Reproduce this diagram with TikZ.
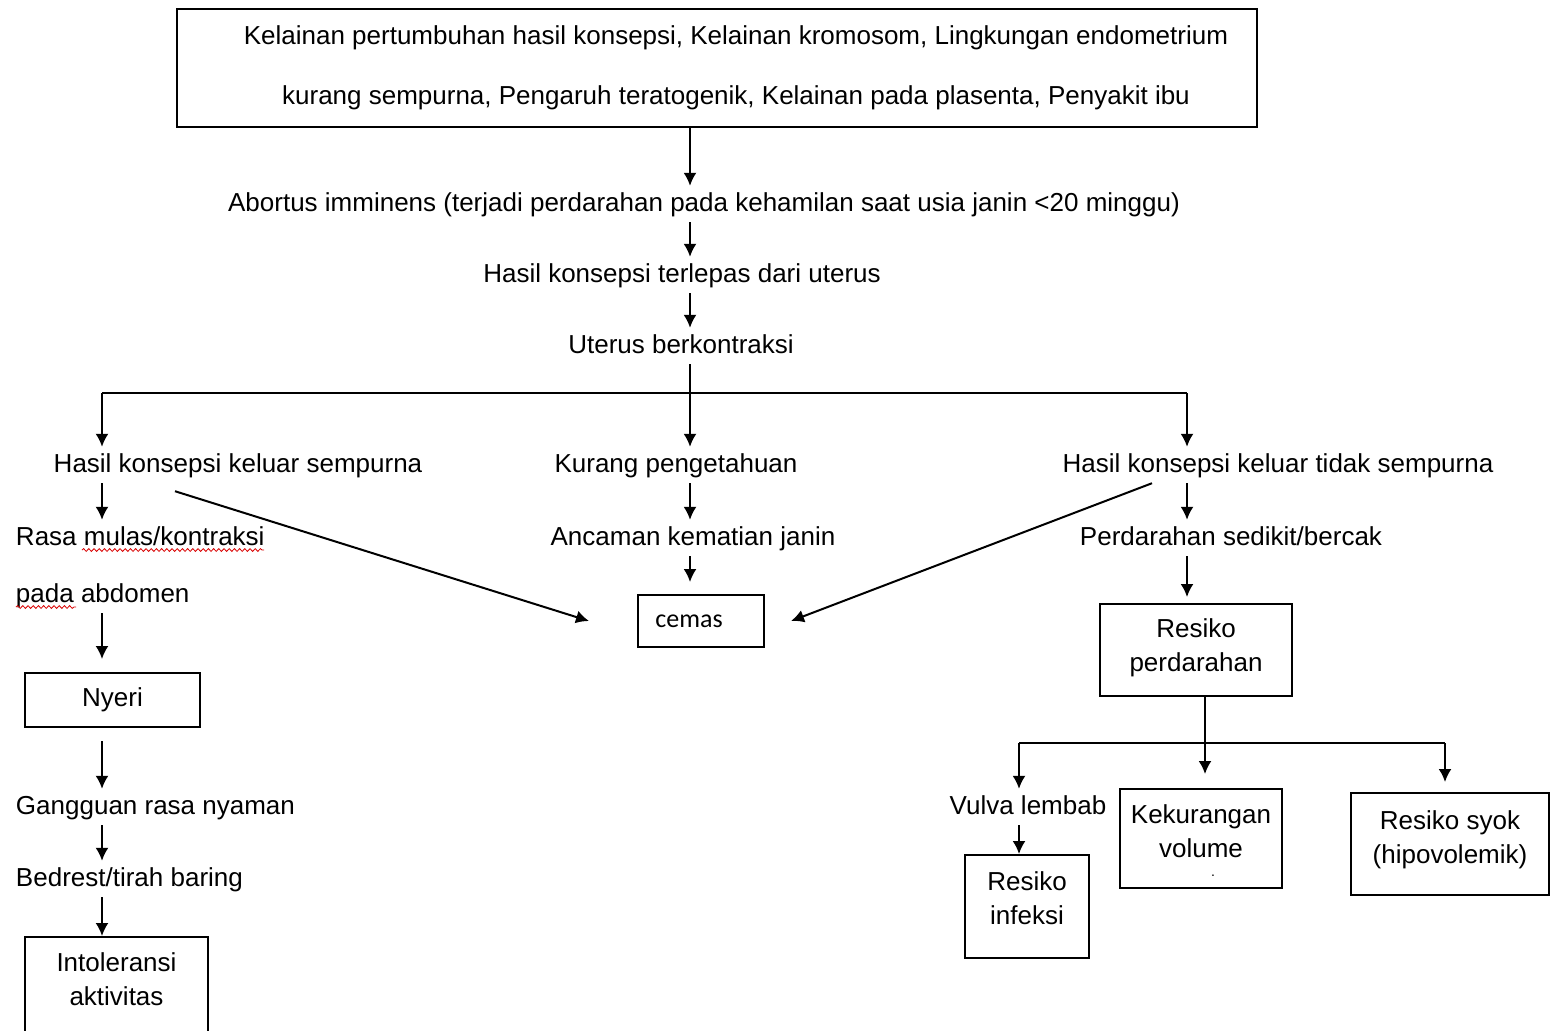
\documentclass[tikz,border=0pt]{standalone}
\usepackage{fontspec}
\setmainfont{Liberation Sans}
\newfontfamily\calibrifont{Carlito}
\usetikzlibrary{arrows.meta,calc,decorations.pathmorphing}
\begin{document}
\begin{tikzpicture}[x=0.5pt,y=-0.5pt,
  line width=1pt,
  every node/.style={font=\fontsize{13pt}{17pt}\selectfont},
  lbl/.style={inner xsep=0pt, inner ysep=5pt, text height=0.72em, text depth=0pt},
  box/.style={draw, line width=1pt, align=center, inner sep=0pt},
  arr/.style={-{Latex[length=6.5pt,width=6.5pt]}},
  spell/.style={red!85!black, line width=0.4pt, decorate, decoration={snake, amplitude=0.7pt, segment length=2.6pt}}]
\useasboundingbox (0,0) rectangle (1550,1030);
\fill[white] (0,0) rectangle (1550,1030);
\clip (0,0) rectangle (1550,1030);

% guide coordinates
\coordinate (spine) at (690,0);
\coordinate (lx) at (102,0);
\coordinate (rx) at (1187,0);
\coordinate (kx) at (1205,0);
\coordinate (barL) at (102,393);
\coordinate (barR) at (1187,393);
\coordinate (bl) at (1019,743);
\coordinate (br) at (1445,743);

% top box
\node[box, minimum width=540pt, minimum height=59pt] (top) at (717,68) {};
\node[lbl] (top1) at (736,37) {Kelainan pertumbuhan hasil konsepsi, Kelainan kromosom, Lingkungan endometrium};
\node[lbl] (top2) at (736,97) {kurang sempurna, Pengaruh teratogenik, Kelainan pada plasenta, Penyakit ibu};

% main chain
\node[lbl] (abort) at (704,204) {Abortus imminens (terjadi perdarahan pada kehamilan saat usia janin <20 minggu)};
\node[lbl] (lepas) at (682,275) {Hasil konsepsi terlepas dari uterus};
\node[lbl] (uterus) at (681,346) {Uterus berkontraksi};

% three branches
\node[lbl] (keluar) at (238,465) {Hasil konsepsi keluar sempurna};
\node[lbl] (kurang) at (676,465) {Kurang pengetahuan};
\node[lbl] (tidak) at (1278,465) {Hasil konsepsi keluar tidak sempurna};

% left column
\node[lbl, anchor=west] (rasa1) at (15,538) {Rasa mulas/kontraksi};
\node[lbl, anchor=west] (rasa2) at (15,595) {pada abdomen};
\node[box, minimum width=87.5pt, minimum height=27pt] (nyeri) at (112.5,700) {Nyeri};
\node[lbl, anchor=west] (gangguan) at (15,807) {Gangguan rasa nyaman};
\node[lbl, anchor=west] (bedrest) at (15,879) {Bedrest/tirah baring};
\node[box, minimum width=91.5pt, minimum height=60pt, anchor=north] (intol) at (116.5,936) {};
\node[align=center, inner sep=0pt] (intolt) at (116.5,979) {Intoleransi\\aktivitas};

% spell-check underlines
\draw[spell] (82,550) -- (264,550);
\draw[spell] (16,607) -- (76,607);

% centre column
\node[lbl] (ancaman) at (693,538) {Ancaman kematian janin};
\node[box, minimum width=63pt, minimum height=26pt, font=\calibrifont\fontsize{13pt}{15pt}\selectfont] (cemas) at (701,621) {cemas\hspace{12pt}};

% right column
\node[lbl] (perd) at (1231,538) {Perdarahan sedikit/bercak};
\node[box, minimum width=96pt, minimum height=46pt] (resiko) at (1196,650) {Resiko\\perdarahan\rule[-5pt]{0pt}{0pt}};
\node[lbl] (vulva) at (1028,807) {Vulva lembab};
\node[box, minimum width=62pt, minimum height=51.5pt] (infeksi) at (1027,906.5) {Resiko\\infeksi\rule[-8.5pt]{0pt}{0pt}};
\node[box, minimum width=81pt, minimum height=49.5pt] (kek) at (1201,838.5) {Kekurangan\\volume\rule[-7pt]{0pt}{0pt}};
\node[inner sep=0pt, font=\fontsize{7pt}{8pt}\selectfont] (kekdot) at (1213,876) {.};
\node[box, minimum width=99pt, minimum height=51pt] (syok) at (1450,844) {Resiko syok\\(hipovolemik)\rule[-7pt]{0pt}{0pt}};

% connectors: main chain
\draw[arr] (top.south -| spine) -- (abort.north -| spine);
\draw[arr] (abort.south -| spine) -- (lepas.north -| spine);
\draw[arr] (lepas.south -| spine) -- (uterus.north -| spine);
\draw[arr] (uterus.south -| spine) -- (kurang.north -| spine);
\draw (barL) -- (barR);
\draw[arr] (barL) -- (keluar.north -| barL);
\draw[arr] (barR) -- (tidak.north -| barR);

% left
\draw[arr] (keluar.south -| lx) -- (rasa1.north -| lx);
\draw[arr, shorten >=6.5pt] (rasa2.south -| lx) -- (nyeri.north -| lx);
\draw[arr, shorten <=6.5pt] (nyeri.south -| lx) -- (gangguan.north -| lx);
\draw[arr] (gangguan.south -| lx) -- (bedrest.north -| lx);
\draw[arr] (bedrest.south -| lx) -- (intol.north -| lx);

% centre
\draw[arr] (kurang.south -| spine) -- (ancaman.north -| spine);
\draw[arr, shorten >=6pt] (ancaman.south -| spine) -- (cemas.north -| spine);
\draw[arr] ([xshift=-31.5pt,yshift=-4pt]keluar.south) -- ([xshift=-24pt]cemas.west);
\draw[arr] ([xshift=-63pt]tidak.south) -- ([xshift=13pt]cemas.east);

% right
\draw[arr] (tidak.south -| rx) -- (perd.north -| rx);
\draw[arr, shorten >=3pt] (perd.south -| rx) -- (resiko.north -| rx);
\draw[arr, shorten >=7pt] (resiko.south -| kx) -- (kek.north -| kx);
\draw (bl) -- (br);
\draw[arr] (bl) -- (vulva.north -| bl);
\draw[arr, shorten >=5pt] (br) -- (syok.north -| br);
\draw[arr] (vulva.south -| bl) -- (infeksi.north -| bl);
\end{tikzpicture}
\end{document}
